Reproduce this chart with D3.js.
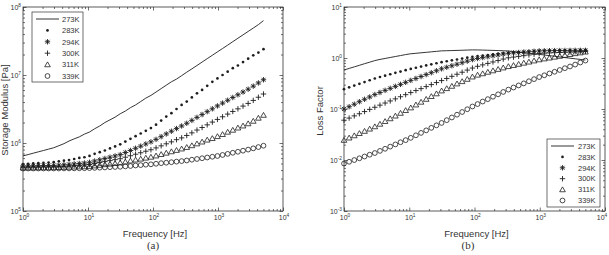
<!DOCTYPE html>
<html><head><meta charset="utf-8">
<script src="https://cdn.jsdelivr.net/npm/d3@7"></script>
<style>
body{margin:0;background:#fff}
text{font-family:"Liberation Sans",Arial,sans-serif;fill:#333}
</style></head>
<body><svg id="c" width="609" height="255"></svg>
<script>
// ---------- data ----------
const freq = [1,1.199,1.437,1.722,2.065,2.476,2.968,3.557,4.265,5.111,6.128,7.345,8.806,10.55,12.65,15.17,18.18,21.79,26.12,31.31,37.54,45.0,53.94,64.66,77.51,92.92,111.4,133.5,160.0,191.9,230.0,275.7,330.5,396.2,474.9,569.3,682.4,818.1,980.6,1175,1409,1689,2025,2427,2910,3488,4181,5012];
const temps = ["273K","283K","294K","300K","311K","339K"];

// Storage modulus [Pa]
const E273 = [6.46e5,6.76e5,7.08e5,7.41e5,7.76e5,8.13e5,8.51e5,9.12e5,9.77e5,1.07e6,1.15e6,1.23e6,1.35e6,1.45e6,1.62e6,1.78e6,2.0e6,2.19e6,2.4e6,2.69e6,2.95e6,3.31e6,3.63e6,4.07e6,4.57e6,5.01e6,5.62e6,6.31e6,7.08e6,7.94e6,8.71e6,9.77e6,1.1e7,1.23e7,1.38e7,1.55e7,1.74e7,1.95e7,2.19e7,2.45e7,2.75e7,3.09e7,3.47e7,3.89e7,4.37e7,4.9e7,5.5e7,6.31e7];
const E283 = [4.9e5,4.95e5,5.0e5,5.05e5,5.1e5,5.16e5,5.23e5,5.37e5,5.5e5,5.62e5,5.82e5,6.03e5,6.17e5,6.46e5,6.92e5,7.33e5,7.76e5,8.32e5,8.91e5,9.55e5,1.05e6,1.15e6,1.26e6,1.38e6,1.51e6,1.66e6,1.86e6,2.14e6,2.45e6,2.75e6,3.16e6,3.63e6,4.07e6,4.68e6,5.37e6,6.03e6,6.92e6,7.94e6,8.91e6,1.0e7,1.12e7,1.26e7,1.38e7,1.55e7,1.74e7,1.95e7,2.14e7,2.4e7];
const E294 = [4.62e5,4.62e5,4.63e5,4.65e5,4.66e5,4.67e5,4.68e5,4.72e5,4.79e5,4.86e5,4.93e5,5.0e5,5.08e5,5.2e5,5.43e5,5.66e5,5.92e5,6.18e5,6.46e5,6.75e5,7.24e5,7.76e5,8.37e5,8.99e5,9.68e5,1.04e6,1.13e6,1.24e6,1.36e6,1.49e6,1.63e6,1.78e6,1.95e6,2.15e6,2.38e6,2.62e6,2.89e6,3.18e6,3.51e6,3.86e6,4.25e6,4.67e6,5.12e6,5.62e6,6.18e6,6.86e6,7.64e6,8.51e6];
const E300 = [4.42e5,4.43e5,4.44e5,4.44e5,4.45e5,4.46e5,4.47e5,4.5e5,4.55e5,4.6e5,4.65e5,4.7e5,4.75e5,4.83e5,4.99e5,5.16e5,5.33e5,5.51e5,5.69e5,5.87e5,6.18e5,6.5e5,6.84e5,7.19e5,7.57e5,7.96e5,8.47e5,9.08e5,9.73e5,1.04e6,1.12e6,1.19e6,1.29e6,1.41e6,1.55e6,1.69e6,1.85e6,2.03e6,2.22e6,2.43e6,2.66e6,2.91e6,3.18e6,3.49e6,3.82e6,4.23e6,4.71e6,5.25e6];
const E311 = [4.32e5,4.32e5,4.33e5,4.34e5,4.35e5,4.35e5,4.36e5,4.39e5,4.41e5,4.43e5,4.46e5,4.48e5,4.5e5,4.55e5,4.63e5,4.73e5,4.83e5,4.92e5,5.02e5,5.13e5,5.28e5,5.47e5,5.65e5,5.83e5,6.03e5,6.22e5,6.49e5,6.81e5,7.13e5,7.48e5,7.83e5,8.22e5,8.65e5,9.18e5,9.77e5,1.04e6,1.11e6,1.17e6,1.25e6,1.34e6,1.45e6,1.55e6,1.67e6,1.79e6,1.93e6,2.1e6,2.33e6,2.57e6];
const E339 = [4.22e5,4.22e5,4.22e5,4.22e5,4.22e5,4.22e5,4.22e5,4.22e5,4.23e5,4.23e5,4.24e5,4.25e5,4.26e5,4.28e5,4.31e5,4.34e5,4.37e5,4.41e5,4.44e5,4.47e5,4.53e5,4.59e5,4.67e5,4.73e5,4.8e5,4.86e5,4.95e5,5.05e5,5.13e5,5.22e5,5.32e5,5.42e5,5.53e5,5.68e5,5.82e5,5.97e5,6.12e5,6.28e5,6.44e5,6.67e5,6.92e5,7.18e5,7.43e5,7.71e5,8.0e5,8.34e5,8.71e5,9.12e5];

// Loss factor
const L273 = [0.582,0.625,0.67,0.719,0.773,0.828,0.889,0.938,0.979,1.023,1.069,1.117,1.167,1.211,1.236,1.265,1.291,1.321,1.349,1.38,1.39,1.4,1.409,1.419,1.432,1.442,1.439,1.429,1.419,1.409,1.4,1.387,1.371,1.337,1.303,1.271,1.239,1.208,1.178,1.146,1.112,1.081,1.05,1.019,0.991,0.964,0.938,0.912];
const L283 = [0.245,0.266,0.288,0.312,0.338,0.366,0.396,0.424,0.451,0.48,0.511,0.542,0.577,0.612,0.644,0.678,0.715,0.75,0.789,0.83,0.863,0.9,0.935,0.973,1.014,1.054,1.089,1.117,1.146,1.175,1.205,1.236,1.265,1.282,1.3,1.318,1.34,1.358,1.377,1.387,1.393,1.403,1.409,1.419,1.426,1.432,1.439,1.445];
const L294 = [0.1,0.111,0.124,0.139,0.155,0.172,0.192,0.211,0.232,0.254,0.278,0.304,0.333,0.364,0.397,0.434,0.473,0.515,0.562,0.614,0.658,0.705,0.755,0.809,0.867,0.929,0.977,1.019,1.059,1.102,1.148,1.194,1.236,1.259,1.282,1.306,1.327,1.352,1.377,1.384,1.39,1.396,1.4,1.406,1.409,1.413,1.413,1.413];
const L300 = [0.0603,0.0664,0.0733,0.0807,0.0891,0.0982,0.108,0.119,0.131,0.144,0.158,0.174,0.191,0.21,0.23,0.251,0.275,0.301,0.33,0.361,0.397,0.437,0.48,0.526,0.579,0.635,0.687,0.733,0.783,0.836,0.891,0.953,1.009,1.042,1.076,1.112,1.148,1.186,1.225,1.242,1.256,1.271,1.282,1.297,1.312,1.324,1.337,1.349];
const L311 = [0.0245,0.0272,0.0301,0.0333,0.0368,0.0407,0.0452,0.0507,0.0573,0.0649,0.0733,0.083,0.094,0.106,0.121,0.137,0.156,0.177,0.2,0.228,0.253,0.281,0.313,0.347,0.385,0.428,0.465,0.495,0.53,0.565,0.603,0.644,0.684,0.719,0.759,0.798,0.839,0.883,0.929,0.968,1.007,1.047,1.089,1.135,1.18,1.227,1.271,1.318];
const L339 = [0.00851,0.00923,0.00998,0.0108,0.0117,0.0127,0.0137,0.0151,0.0166,0.0183,0.0202,0.0223,0.0245,0.0272,0.0305,0.034,0.0381,0.0427,0.0478,0.0533,0.0604,0.0682,0.0773,0.0873,0.0989,0.112,0.125,0.14,0.156,0.174,0.194,0.216,0.24,0.264,0.29,0.318,0.35,0.385,0.423,0.458,0.497,0.537,0.582,0.631,0.682,0.743,0.815,0.891];

const xTickExp = [0,1,2,3,4];
const yTickExpA = [5,6,7,8];
const yTickExpB = [-3,-2,-1,0,1];

// ---------- drawing ----------
const svg = d3.select("#c");
const INK = "#1e1e1e";
const kinds = ["line","dot","star","plus","tri","circ"];

function marker(sel, kind, cx, cy) {
  const s = 2.7;
  if (kind === "dot") {
    sel.append("circle").attr("cx", cx).attr("cy", cy).attr("r", 1.35).attr("fill", INK);
  } else if (kind === "plus" || kind === "star") {
    let d = `M${cx-s},${cy}H${cx+s}M${cx},${cy-s}V${cy+s}`;
    if (kind === "star") { const k = s*0.72; d += `M${cx-k},${cy-k}L${cx+k},${cy+k}M${cx-k},${cy+k}L${cx+k},${cy-k}`; }
    sel.append("path").attr("d", d).attr("stroke", INK).attr("stroke-width", 0.9).attr("fill", "none");
  } else if (kind === "tri") {
    sel.append("path").attr("d", `M${cx},${cy-s}L${cx+s*1.05},${cy+s*0.8}L${cx-s*1.05},${cy+s*0.8}Z`)
      .attr("stroke", INK).attr("stroke-width", 0.8).attr("fill", "none");
  } else if (kind === "circ") {
    sel.append("circle").attr("cx", cx).attr("cy", cy).attr("r", 2.4)
      .attr("stroke", INK).attr("stroke-width", 0.8).attr("fill", "none");
  }
}

function panel(cfg) {
  const x = d3.scaleLog().domain([1, 1e4]).range([cfg.x0, cfg.x1]);
  const y = d3.scaleLog().domain(cfg.ydom).range([211, 7]);
  const g = svg.append("g");

  // series
  cfg.series.forEach((vals, si) => {
    const kind = kinds[si];
    if (kind === "line") {
      g.append("path").datum(vals)
        .attr("d", d3.line().x((d, i) => x(freq[i])).y(d => y(d)))
        .attr("fill", "none").attr("stroke", INK).attr("stroke-width", 0.9);
    } else {
      const mg = g.append("g");
      vals.forEach((v, i) => marker(mg, kind, x(freq[i]), y(v)));
    }
  });

  // axes with inward ticks on all sides
  const xMaj = xTickExp.map(e => Math.pow(10, e));
  const xMin = x.ticks().filter(v => xMaj.indexOf(v) < 0);
  const yMaj = cfg.yexp.map(e => Math.pow(10, e));
  const yMin = y.ticks().filter(v => !yMaj.some(m => Math.abs(m - v) / m < 1e-9));
  const style = s => { s.select(".domain").remove(); s.selectAll("line").attr("stroke", "#333").attr("stroke-width", 0.7); };
  [[xMaj, 3.5], [xMin, 2]].forEach(([vals, len]) => {
    g.append("g").attr("transform", "translate(0,211)").call(d3.axisBottom(x).tickValues(vals).tickSize(-len).tickFormat("")).call(style);
    g.append("g").attr("transform", "translate(0,7)").call(d3.axisTop(x).tickValues(vals).tickSize(-len).tickFormat("")).call(style);
  });
  [[yMaj, 3.5], [yMin, 2]].forEach(([vals, len]) => {
    g.append("g").attr("transform", `translate(${cfg.x0},0)`).call(d3.axisLeft(y).tickValues(vals).tickSize(-len).tickFormat("")).call(style);
    g.append("g").attr("transform", `translate(${cfg.x1},0)`).call(d3.axisRight(y).tickValues(vals).tickSize(-len).tickFormat("")).call(style);
  });
  g.append("rect").attr("x", cfg.x0).attr("y", 7).attr("width", cfg.x1 - cfg.x0).attr("height", 204)
    .attr("fill", "none").attr("stroke", "#333").attr("stroke-width", 0.8);

  // tick labels
  xTickExp.forEach(e => {
    const px = Math.min(x(Math.pow(10, e)) + 1, 602);
    const t = g.append("text").attr("x", px).attr("y", 220).attr("text-anchor", "middle").attr("font-size", 7);
    t.append("tspan").text("10");
    t.append("tspan").attr("dy", -3.5).attr("font-size", 4.8).text(e);
  });
  cfg.yexp.forEach(e => {
    const t = g.append("text").attr("x", cfg.x0 - 2).attr("y", y(Math.pow(10, e)) + 3).attr("text-anchor", "end").attr("font-size", 7);
    t.append("tspan").text("10");
    t.append("tspan").attr("dy", -3.5).attr("font-size", 4.8).text(e);
  });

  // axis titles
  g.append("text").attr("x", (cfg.x0 + cfg.x1) / 2 + 2).attr("y", 237).attr("text-anchor", "middle")
    .attr("font-size", 9.5).text("Frequency [Hz]");
  g.append("text").attr("transform", `translate(${cfg.ylx},${cfg.yly}) rotate(-90)`).attr("text-anchor", "middle")
    .attr("font-size", 9.5).text(cfg.ylabel);
  g.append("text").attr("x", cfg.capx).attr("y", 249).attr("text-anchor", "middle")
    .style("font-family", "'Liberation Serif','DejaVu Serif',serif")
    .attr("font-size", 11).text(cfg.caption);

  // legend
  const L = cfg.legend;
  g.append("rect").attr("x", L.x).attr("y", L.y).attr("width", L.w).attr("height", L.h)
    .attr("fill", "#fff").attr("stroke", "#333").attr("stroke-width", 0.7);
  temps.forEach((lab, i) => {
    const cy = L.y + L.top + i * L.dy;
    const kind = kinds[i];
    if (kind === "line") {
      g.append("line").attr("x1", L.sx0).attr("x2", L.sx1).attr("y1", cy).attr("y2", cy)
        .attr("stroke", INK).attr("stroke-width", 0.9);
    } else {
      marker(g, kind, (L.sx0 + L.sx1) / 2, cy);
    }
    g.append("text").attr("x", L.tx).attr("y", cy + 2.7).attr("font-size", 7.5).text(lab);
  });
}

panel({
  x0: 23, x1: 283, ydom: [1e5, 1e8], yexp: yTickExpA,
  series: [E273, E283, E294, E300, E311, E339],
  ylabel: "Storage Modulus [Pa]", ylx: 8, yly: 110,
  caption: "(a)", capx: 153,
  legend: { x: 32, y: 12, w: 51, h: 70, top: 7, dy: 11.4, sx0: 36, sx1: 59, tx: 62 }
});
panel({
  x0: 344, x1: 605, ydom: [1e-3, 1e1], yexp: yTickExpB,
  series: [L273, L283, L294, L300, L311, L339],
  ylabel: "Loss Factor", ylx: 323, yly: 111,
  caption: "(b)", capx: 468,
  legend: { x: 547, y: 139, w: 53, h: 68, top: 7, dy: 10.9, sx0: 551, sx1: 574, tx: 578 }
});
</script></body></html>
